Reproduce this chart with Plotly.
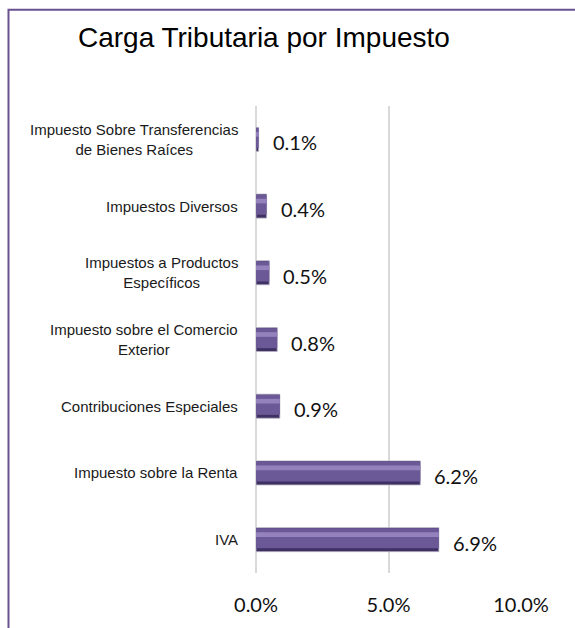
import plotly.graph_objects as go

# categories bottom-up, values as fractions
categorias = [
    'IVA',
    'Impuesto sobre la Renta',
    'Contribuciones Especiales',
    'Impuesto sobre el Comercio<br>Exterior',
    'Impuestos a Productos<br>Específicos',
    'Impuestos Diversos',
    'Impuesto Sobre Transferencias<br>de Bienes Raíces',
]
carga = [0.069, 0.062, 0.009, 0.008, 0.005, 0.004, 0.001]
ticks = [0.0, 0.05, 0.10]
tick_labels = ['0.0%', '5.0%', '10.0%']

pos = list(range(len(categorias)))

fig = go.Figure()

# bar body plus two bands to suggest the bevel
fig.add_trace(go.Bar(x=carga, y=pos, orientation='h', width=0.36, offset=-0.18,
                     marker=dict(color='#3f3163', line=dict(color='#b8b4c4', width=0.8)),
                     hoverinfo='skip'))
fig.add_trace(go.Bar(x=carga, y=pos, orientation='h', width=0.30, offset=-0.13,
                     marker=dict(color='#6b5997', line=dict(width=0)),
                     hoverinfo='skip'))
fig.add_trace(go.Bar(x=carga, y=pos, orientation='h', width=0.07, offset=0.04,
                     marker=dict(color='#9482bd', line=dict(width=0)),
                     hoverinfo='skip'))

# value labels
for p, v in zip(pos, carga):
    fig.add_annotation(x=v, y=p, text=f'{v * 100:.1f}%', showarrow=False,
                       xanchor='left', xshift=12, yshift=-3,
                       font=dict(family='Lato, Open Sans, sans-serif', size=20, color='#111111'))

# category labels, lines centred like the original
for p, c in zip(pos, categorias):
    fig.add_annotation(x=0, xref='paper', y=p, text=c, showarrow=False,
                       xanchor='right', xshift=-16, align='center',
                       font=dict(family='Liberation Sans, Arial, sans-serif', size=15, color='#1a1a1a'))

fig.update_layout(
    title=dict(text='Carga Tributaria por Impuesto', x=0.459, xanchor='center', y=0.941, yanchor='middle',
               font=dict(family='Liberation Sans, Arial, sans-serif', size=28, color='#000000')),
    barmode='overlay',
    showlegend=False,
    width=575, height=628,
    margin=dict(l=256, r=54, t=106, b=55, autoexpand=False),
    plot_bgcolor='white',
    paper_bgcolor='white',
    xaxis=dict(range=[0, 0.10], tickvals=ticks, ticktext=tick_labels,
               showgrid=True, gridcolor='#d9d9d9', gridwidth=1.5,
               zeroline=True, zerolinecolor='#d9d9d9', zerolinewidth=1.5,
               showline=False, ticks='', ticklabelstandoff=18,
               tickfont=dict(family='Lato, Open Sans, sans-serif', size=20, color='#111111'),
               fixedrange=True),
    yaxis=dict(range=[-0.5, len(categorias) - 0.5], showticklabels=False, showgrid=False,
               zeroline=False, showline=False, ticks='', fixedrange=True),
    shapes=[dict(type='rect', xref='paper', yref='paper',
                 x0=-0.934, x1=1.6, y0=-0.5, y1=1.206,
                 line=dict(color='#6a5290', width=2), fillcolor='rgba(0,0,0,0)', layer='above')],
)

fig.write_html('out.html', config={'displayModeBar': False},
               post_script="document.body.style.margin='0';document.body.style.overflow='hidden';")
